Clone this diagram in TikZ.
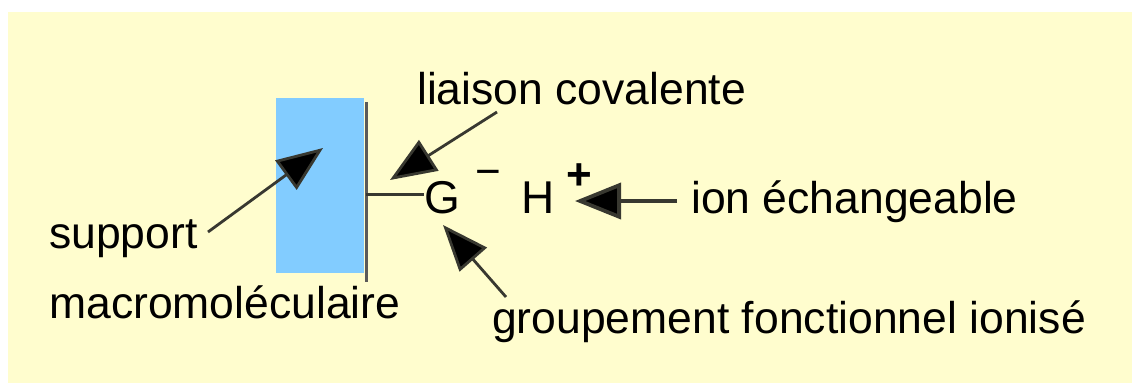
\documentclass[tikz,border=0pt]{standalone}
\usepackage{fontspec}
\setmainfont{Liberation Sans}
\usetikzlibrary{arrows.meta}
\definecolor{bgyellow}{RGB}{255,253,206}
\definecolor{supblue}{RGB}{130,204,255}
\definecolor{linegray}{RGB}{56,56,48}
\definecolor{edgegray}{RGB}{90,90,90}
\begin{document}
\begin{tikzpicture}[x=1pt,y=-1pt,
  lbl/.style={font=\fontsize{44.5}{50}\selectfont, inner sep=0pt, anchor=base west, text=black},
  chem/.style={font=\fontsize{46}{50}\selectfont, inner sep=0pt, anchor=base, text=black},
  arr/.style={draw=linegray, line width=2.8pt, -{Triangle[length=46pt,width=36pt,fill=black]}},
  shortarr/.style={draw=linegray, line width=3.8pt, -{Triangle[length=46pt,width=36pt,fill=black]}}]
\fill[white] (0,0) rectangle (1132,383);
\useasboundingbox (0,0) rectangle (1132,383);
\fill[bgyellow] (8,12) rectangle (1132,383);
% support block
\fill[supblue] (276,98) rectangle (364,273);
\coordinate (wtop) at (366,102);
\coordinate (wbot) at (366,282);
\draw[edgegray, line width=3pt] (wtop) -- (wbot);
\coordinate (bondL) at (366,194);
% chemical symbols
\node[chem] (G) at (442,213) {G};
\node[chem] (H) at (538,213) {H};
\node[chem, font=\fontsize{44}{50}\selectfont] (minus) at (488,186) {−};
\node[chem, font=\bfseries\fontsize{44}{50}\selectfont] (plus) at (579,189) {+};
\draw[linegray, line width=3pt] (bondL) -- (G.west |- bondL);
% labels
\node[lbl] (liaison) at (417,104) {liaison covalente};
\node[lbl] (ion) at (691,213) {ion échangeable};
\node[lbl] (support) at (49,248) {support};
\node[lbl] (macro) at (49,318) {macromoléculaire};
\node[lbl] (groupe) at (492,333) {groupement fonctionnel ionisé};
% arrow end points
\coordinate (supTail) at (208,232);
\coordinate (supTip) at (323,148);
\coordinate (liaTail) at (497,112);
\coordinate (liaTip) at (390,180);
\coordinate (ionTail) at (677,201);
\coordinate (ionTip) at (575,201);
\coordinate (grTail) at (506,297);
\coordinate (grTip) at (443,225);
\draw[arr] (supTail) -- (supTip);
\draw[arr] (liaTail) -- (liaTip);
\draw[shortarr] (ionTail) -- (ionTip);
\draw[arr] (grTail) -- (grTip);
\end{tikzpicture}
\end{document}
